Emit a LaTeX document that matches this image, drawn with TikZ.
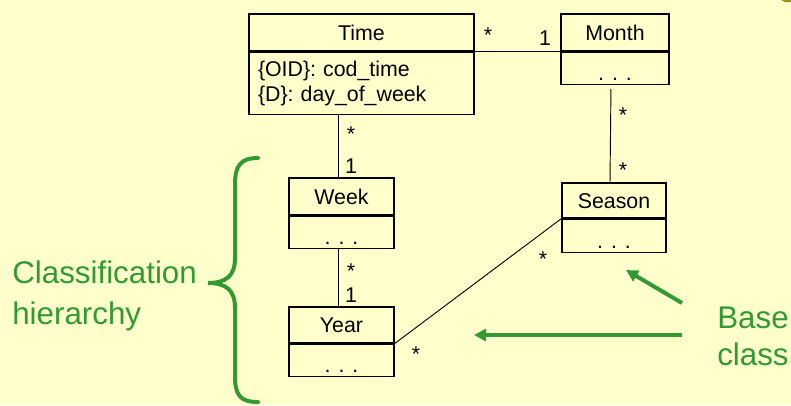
\documentclass[tikz,border=0pt]{standalone}
\usepackage{fontspec}
\setmainfont{Liberation Sans}
\usetikzlibrary{arrows.meta}
\definecolor{paper}{RGB}{255,255,204}
\definecolor{hlgreen}{RGB}{51,153,51}
\definecolor{cornerolive}{RGB}{150,150,30}
\newcommand\umlfont{\fontsize{16}{18.75}\selectfont}
\newcommand\notefont{\fontsize{23.5}{29}\selectfont}
\tikzset{
  classname/.style={draw, fill=paper, line width=0.9pt, inner sep=0pt, minimum height=27.75pt, text height=11.5pt, text depth=0pt, font=\umlfont},
  classbody/.style={draw, fill=paper, line width=0.9pt, inner sep=0pt, anchor=north, minimum height=24pt, font=\umlfont},
  dotbody/.style={classbody, text height=21.5pt, text depth=2.5pt},
  assoc/.style={line width=0.7pt},
  mult/.style={anchor=base, inner sep=0pt, font=\umlfont},
  note/.style={anchor=base west, inner sep=0pt, text=hlgreen, font=\notefont},
  pointer/.style={draw=hlgreen, line width=3pt, -{Triangle[length=9pt,width=9pt]}},
}
\begin{document}
\begin{tikzpicture}[x=0.75pt,y=-0.75pt]
\fill[paper] (0,0) rectangle (791,405);
\useasboundingbox (0,0) rectangle (791,405);
\fill[cornerolive] (781,0) -- (791,0) -- (791,2) .. controls (786,2.5) .. (781,0) -- cycle;

\node[classname, minimum width=168.75pt] (time) at (361.5,32.5) {Time};
\node[classbody, minimum width=168.75pt, minimum height=46.5pt, inner xsep=6.75pt, text width=155.25pt, align=left] (time-body) at (time.south) {\{OID\}: cod\_time\\\{D\}: day\_of\_week};
\node[classname, minimum width=81pt] (month) at (615,32.5) {Month};
\node[dotbody, minimum width=81pt] (month-body) at (month.south) {. . .};
\node[classname, minimum width=78pt, minimum height=26.25pt] (season) at (614,200.5) {Season};
\node[dotbody, minimum width=78pt, minimum height=24.75pt] (season-body) at (season.south) {. . .};
\node[classname, minimum width=78.75pt] (week) at (341.5,196.5) {Week};
\node[dotbody, minimum width=78.75pt] (week-body) at (week.south) {. . .};
\node[classname, minimum width=78.75pt, minimum height=27pt] (year) at (341.5,325) {Year};
\node[dotbody, minimum width=78.75pt] (year-body) at (year.south) {. . .};

\draw[assoc] (time.south east) -- (month.south west);
\draw[assoc] ([xshift=-2.5pt]week.north |- time-body.south) -- ([xshift=-2.5pt]week.north);
\draw[assoc] ([xshift=-2.5pt]week-body.south) -- ([xshift=-2.5pt]year.north);
\draw[assoc, shorten <=3pt] ([xshift=-3pt]month-body.south) -- ([xshift=-3pt]season.north);
\draw[assoc] (season.south west) -- (year.south east);

\node[mult] (m1) at (488,42) {*};
\node[mult] (m2) at (545,45) {1};
\node[mult] (m3) at (351,141) {*};
\node[mult] (m4) at (351,173) {1};
\node[mult] (m5) at (351,278) {*};
\node[mult] (m6) at (351,302) {1};
\node[mult] (m7) at (623,122) {*};
\node[mult] (m8) at (623,177) {*};
\node[mult] (m9) at (543,266) {*};
\node[mult] (m10) at (416,361) {*};

\draw[hlgreen, line width=3pt, line cap=round] (258,158) .. controls (240,158) and (235,166) .. (235,185) -- (235,258) .. controls (235,276) and (226,283) .. (208,283) .. controls (226,283) and (235,290) .. (235,308) -- (235,376) .. controls (235,395) and (240,402) .. (258,402);
\node[note] (hier1) at (12,283) {Classification};
\node[note] (hier2) at (12,324) {hierarchy};

\node[note] (base1) at (717,328) {Base};
\node[note] (base2) at (717,365) {class};
\coordinate (tail-season) at (682,303);
\coordinate (tip-season) at (626,270);
\coordinate (tail-year) at (682,335);
\coordinate (tip-year) at (474,335);
\draw[pointer] (tail-season) -- (tip-season);
\draw[pointer] (tail-year) -- (tip-year);
\end{tikzpicture}
\end{document}
